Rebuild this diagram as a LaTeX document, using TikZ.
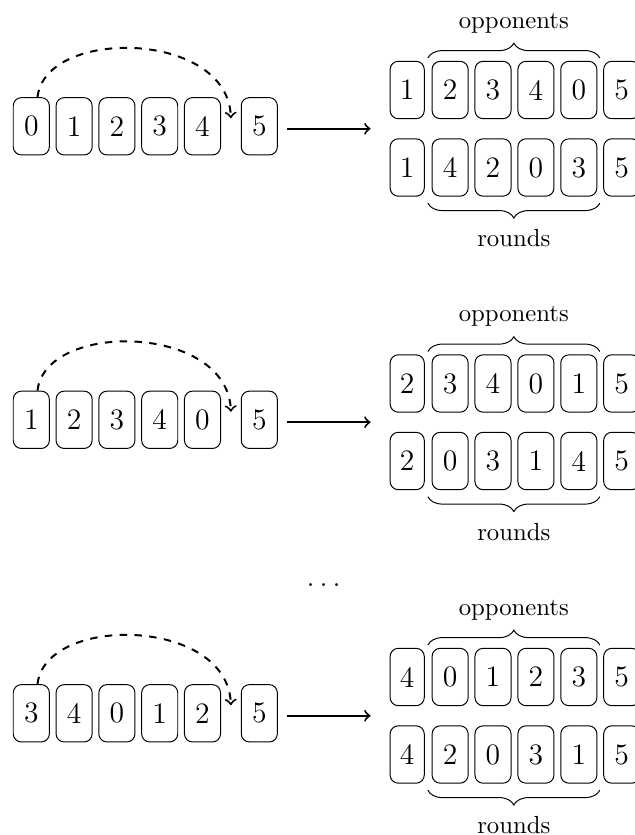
\documentclass[tikz,border=0pt]{standalone}
\usetikzlibrary{calc,decorations.pathreplacing}

\tikzset{
  card/.style={draw, rounded corners=3.3pt, minimum width=14.6pt,
    minimum height=23.2pt, inner sep=0pt, font=\large},
  hop/.style={thick, dashed, ->},
  maparrow/.style={thick, ->},
  bracemark/.style={decorate, decoration={brace, amplitude=6pt}},
  caption/.style={anchor=base, inner sep=0pt},
}

% One rotation step: #1 name prefix, #2 vertical offset,
% #3 the five left cards (the fixed 5 is added),
% #4 top row of five, #5 bottom row of five.
\newcommand\roundblock[5]{%
  \foreach \v [count=\i] in {#3}
    \node[card] (#1a\i) at ({31.3+42.8*(\i-1)},{126.3+#2}) {\v};
  \node[card] (#1a6) at (259.3,{126.3+#2}) {5};
  \foreach \v [count=\i] in {#4}{%
    \ifnum\i=1 \def\cw{13.8pt}\else\def\cw{14.6pt}\fi
    \node[card, minimum width=\cw] (#1b\i) at ({407.2+42.9*(\i-1)},{90+#2}) {\v};}
  \node[card] (#1b6) at (621.7,{90+#2}) {5};
  \foreach \v [count=\i] in {#5}{%
    \ifnum\i=1 \def\cw{13.8pt}\else\def\cw{14.6pt}\fi
    \node[card, minimum width=\cw] (#1c\i) at ({407.2+42.9*(\i-1)},{167.5+#2}) {\v};}
  \node[card] (#1c6) at (621.7,{167.5+#2}) {5};
  % braces and their captions
  \draw[bracemark] ([xshift=-1.5pt,yshift=1.13pt]#1b2.north west)
    -- ([xshift=1pt,yshift=1.13pt]#1b5.north east);
  \node[caption] (#1opp) at (513.8,{28.2+#2}) {opponents};
  \draw[bracemark] ([xshift=1pt,yshift=-2.63pt]#1c5.south east)
    -- ([xshift=-1.5pt,yshift=-2.63pt]#1c2.south west);
  \node[caption] (#1rnd) at (513.8,{246.5+#2}) {rounds};
  % the first card jumps in front of the fixed 5
  \coordinate (#1t) at ($(#1a5.east)!0.5!(#1a6.west)+(0,-8)$);
  \draw[hop] (#1a1.78) .. controls +(7.7,-70) and +(-2.9,-88.3) .. (#1t);
  % mapping arrow
  \coordinate (#1m) at ($(#1b1.west)!0.5!(#1c1.west)$);
  \draw[maparrow, shorten <=3.8pt, shorten >=7.7pt] (#1a6.east |- #1m) -- (#1m);
}

\begin{document}
\begin{tikzpicture}[x=0.4045pt, y=-0.4045pt]
  \useasboundingbox (0,0) rectangle (635,835);
  \roundblock{A}{0}{0,1,2,3,4}{1,2,3,4,0}{1,4,2,0,3}
  \roundblock{B}{293.5}{1,2,3,4,0}{2,3,4,0,1}{2,0,3,1,4}
  \node[caption, font=\large] (dots) at (323.7,586.5) {$\ldots$};
  \roundblock{C}{587}{3,4,0,1,2}{4,0,1,2,3}{4,2,0,3,1}
\end{tikzpicture}
\end{document}
